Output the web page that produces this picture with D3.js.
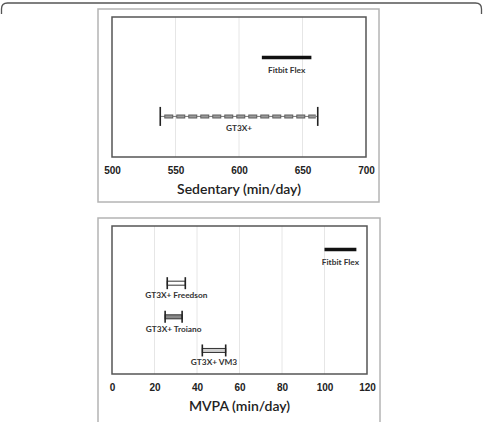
<!DOCTYPE html>
<html>
<head>
<meta charset="utf-8">
<script src="https://cdn.jsdelivr.net/npm/d3@7"></script>
<style>
body { margin:0; background:#fff; }
svg { display:block; font-family: Lato, "Open Sans", sans-serif; }
.tick text { font-weight:bold; font-size:10px; fill:#222; }
.lbl { font-weight:bold; font-size:8.3px; fill:#333; text-anchor:middle; }
.ttl { font-size:14px; font-weight:600; fill:#222; text-anchor:middle; }
</style>
</head>
<body>
<div id="chart"></div>
<script>
// sedentary panel
var sedCats = ["Fitbit Flex", "GT3X+"];
var sedLow = [618, 538];
var sedHigh = [657, 662];
var sedTicks = [500, 550, 600, 650, 700];

// MVPA panel
var mvpaCats = ["Fitbit Flex", "GT3X+ Freedson", "GT3X+ Troiano", "GT3X+ VM3"];
var mvpaLow = [100, 26, 25, 42.5];
var mvpaHigh = [115, 34.5, 33, 53.5];
var mvpaTicks = [0, 20, 40, 60, 80, 100, 120];

var barStyle = {
	"Fitbit Flex": "solid",
	"GT3X+": "dashed",
	"GT3X+ Freedson": "hollow",
	"GT3X+ Troiano": "gray",
	"GT3X+ VM3": "light"
};
var barFill = { hollow: '#fff', gray: '#8a8a8a', light: '#d0d0d0' };

var W = 483, H = 422;
var svg = d3.select('#chart').append('svg').attr('width', W).attr('height', H);

// page frame (top edge with rounded corners)
svg.append('path')
	.attr('d', 'M1.5,14 V9 Q1.5,3 7.5,3 H475.5 Q481.5,3 481.5,9 V14')
	.style('fill', 'none').style('stroke', '#555').style('stroke-width', 1.3);

function panel(o) {
	var g = svg.append('g');
	// outer box
	g.append('rect').attr('x', o.ox).attr('y', o.oy).attr('width', o.ow).attr('height', o.oh)
		.style('fill', 'none').style('stroke', '#b4b4b4').style('stroke-width', 1.5);

	var x = d3.scaleLinear().domain(o.domain).range([o.x0, o.x1]);
	var y = d3.scalePoint().domain(o.cats).range([o.y0, o.y1]).padding(o.pad);

	// gridlines
	g.selectAll('.grid').data(o.ticks.slice(1, -1)).enter().append('line')
		.attr('x1', function (d) { return x(d); }).attr('x2', function (d) { return x(d); })
		.attr('y1', o.y0).attr('y2', o.y1)
		.style('stroke', '#e6e6e6').style('stroke-width', 1);

	// axis labels only
	var ax = g.append('g').attr('transform', 'translate(0,' + o.y1 + ')')
		.call(d3.axisBottom(x).tickValues(o.ticks).tickSize(0).tickPadding(10));
	ax.select('.domain').remove();

	g.append('rect').attr('x', o.x0).attr('y', o.y0).attr('width', o.x1 - o.x0).attr('height', o.y1 - o.y0)
		.style('fill', 'none').style('stroke', '#555').style('stroke-width', 1.5);

	g.append('text').attr('class', 'ttl').attr('x', (o.x0 + o.x1) / 2).attr('y', o.y1 + 37).text(o.title);

	o.cats.forEach(function (c, i) {
		var a = x(o.low[i]), b = x(o.high[i]), yy = y(c), st = barStyle[c];
		if (st == 'solid') {
			g.append('line').attr('x1', a).attr('x2', b).attr('y1', yy).attr('y2', yy)
				.style('stroke', '#111').style('stroke-width', 3.5);
		} else if (st == 'dashed') {
			g.append('line').attr('x1', a).attr('x2', b).attr('y1', yy).attr('y2', yy)
				.style('stroke', '#777').style('stroke-width', 1);
			g.append('line').attr('x1', a + 4).attr('x2', b - 2).attr('y1', yy).attr('y2', yy)
				.style('stroke', '#606060').style('stroke-width', 4).style('stroke-dasharray', '9,3');
			g.append('line').attr('x1', a + 5).attr('x2', b - 2).attr('y1', yy).attr('y2', yy)
				.style('stroke', '#9a9a9a').style('stroke-width', 2).style('stroke-dasharray', '7,5');
		} else {
			g.append('rect').attr('x', a).attr('y', yy - 2).attr('width', b - a).attr('height', 4)
				.style('fill', barFill[st]).style('stroke', '#333').style('stroke-width', 1);
		}
		if (st != 'solid') {
			var ch = st == 'dashed' ? 9.5 : 6;
			[a, b].forEach(function (cx) {
				g.append('line').attr('x1', cx).attr('x2', cx).attr('y1', yy - ch).attr('y2', yy + ch)
					.style('stroke', '#222').style('stroke-width', 1.6);
			});
		}
		g.append('text').attr('class', 'lbl').attr('x', (a + b) / 2).attr('y', yy + 15).text(c);
	});
}

panel({ ox: 98, oy: 9, ow: 281, oh: 193, x0: 112, x1: 366, y0: 17, y1: 157, pad: 0.69,
	domain: [500, 700], ticks: sedTicks, cats: sedCats, low: sedLow, high: sedHigh,
	title: 'Sedentary (min/day)' });

panel({ ox: 98, oy: 218, ow: 282, oh: 210, x0: 112, x1: 367, y0: 226, y1: 374, pad: 0.7,
	domain: [0, 120], ticks: mvpaTicks, cats: mvpaCats, low: mvpaLow, high: mvpaHigh,
	title: 'MVPA (min/day)' });
</script>
</body>
</html>
